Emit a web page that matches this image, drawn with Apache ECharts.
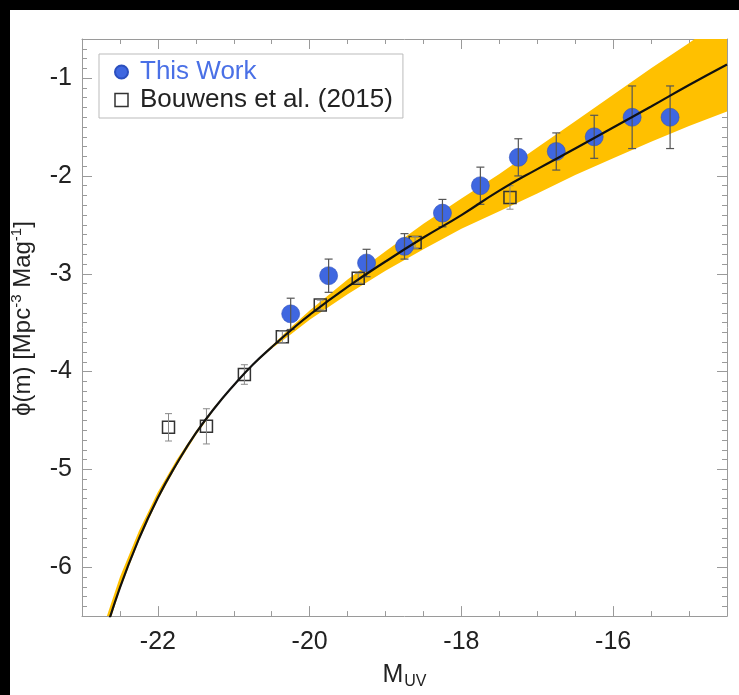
<!DOCTYPE html>
<html>
<head>
<meta charset="utf-8">
<script src="https://cdn.jsdelivr.net/npm/echarts@6/dist/echarts.min.js"></script>
<style>
  html, body { margin: 0; padding: 0; background: #000; }
  #paper { position: absolute; left: 10px; top: 10px; right: 0; bottom: 0; background: #fff; }
  #chart { position: absolute; left: 0; top: 0; width: 739px; height: 695px; }
</style>
</head>
<body>
<div id="paper"></div>
<div id="chart"></div>
<script>
// UV luminosity function: log10 phi [Mpc^-3 Mag^-1] against absolute UV magnitude

// This work: binned values with symmetric 1-sigma errors
const workM   = [-20.25, -19.75, -19.25, -18.75, -18.25, -17.75, -17.25, -16.75, -16.25, -15.75, -15.25];
const workPhi = [-3.41, -3.02, -2.89, -2.72, -2.38, -2.10, -1.81, -1.75, -1.60, -1.40, -1.40];
const workErr = [0.16, 0.17, 0.14, 0.13, 0.14, 0.19, 0.19, 0.19, 0.22, 0.32, 0.32];

// Bouwens et al. (2015)
const bouwensM   = [-21.86, -21.36, -20.86, -20.36, -19.86, -19.36, -18.61, -17.36];
const bouwensPhi = [-4.57, -4.56, -4.03, -3.645, -3.32, -3.045, -2.68, -2.22];
const bouwensErr = [0.14, 0.18, 0.10, 0.06, 0.05, 0.05, 0.06, 0.12];

// best-fit Schechter curve
const fitM   = [-22.75, -22.5, -22.25, -22.0, -21.75, -21.5, -21.25, -21.0, -20.75, -20.5, -20.25, -20.0,
                -19.5, -19.0, -18.5, -18.0, -17.5, -17.0, -16.5, -16.0, -15.5, -15.0, -14.5];
const fitPhi = [-6.81, -6.21, -5.71, -5.29, -4.94, -4.63, -4.37, -4.14, -3.93, -3.75, -3.58, -3.42,
                -3.135, -2.875, -2.63, -2.40, -2.15, -1.93, -1.72, -1.505, -1.29, -1.07, -0.86];

// confidence band around the fit
const bandM     = fitM;
const bandUpper = [-6.68, -6.10, -5.63, -5.23, -4.90, -4.61, -4.355, -4.135, -3.925, -3.735, -3.55, -3.375,
                   -3.06, -2.77, -2.49, -2.23, -1.98, -1.71, -1.44, -1.17, -0.90, -0.64, -0.37];
const bandLower = [-6.84, -6.23, -5.73, -5.31, -4.96, -4.65, -4.38, -4.145, -3.935, -3.765, -3.62, -3.47,
                   -3.21, -2.97, -2.75, -2.54, -2.36, -2.18, -1.99, -1.82, -1.65, -1.49, -1.34];

// axis ticks
const xMajorTicks = [-22, -20, -18, -16];
const yMajorTicks = [-6, -5, -4, -3, -2, -1];
const xRange = [-23, -14.5];
const yRange = [-6.5, -0.6];

const FONT = "'Liberation Sans', Arial, Helvetica, sans-serif";
const AXIS_GRAY = '#9a9a9a';
const BLUE = '#3f67e0';

const chart = echarts.init(document.getElementById('chart'), null, { renderer: 'canvas' });

function errorBars(xs, ys, errs, color, capHalf, width, z) {
  return {
    type: 'custom',
    z: z,
    silent: true,
    clip: true,
    data: xs.map((x, i) => [x, ys[i] - errs[i], ys[i] + errs[i]]),
    encode: { x: 0, y: [1, 2] },
    renderItem: function (params, api) {
      const lo = api.coord([api.value(0), api.value(1)]);
      const hi = api.coord([api.value(0), api.value(2)]);
      const style = { stroke: color, lineWidth: width, fill: null };
      return {
        type: 'group',
        children: [
          { type: 'line', shape: { x1: lo[0], y1: lo[1], x2: hi[0], y2: hi[1] }, style: style },
          { type: 'line', shape: { x1: lo[0] - capHalf, y1: lo[1], x2: lo[0] + capHalf, y2: lo[1] }, style: style },
          { type: 'line', shape: { x1: hi[0] - capHalf, y1: hi[1], x2: hi[0] + capHalf, y2: hi[1] }, style: style }
        ]
      };
    }
  };
}

function xAxisDef(position, major, withLabel) {
  const base = {
    type: 'value',
    position: position,
    min: xRange[0],
    max: xRange[1],
    splitLine: { show: false },
    axisLine: { show: major, onZero: false, lineStyle: { color: AXIS_GRAY, width: 1 } }
  };
  if (major) {
    base.axisTick = { show: true, inside: true, length: 10, customValues: xMajorTicks, lineStyle: { color: AXIS_GRAY } };
    base.axisLabel = withLabel
      ? { show: true, customValues: xMajorTicks, fontSize: 25, fontFamily: FONT, color: '#222', margin: 14 }
      : { show: false };
  } else {
    base.interval = 0.5;
    base.axisTick = { show: true, inside: true, length: 5, lineStyle: { color: AXIS_GRAY } };
    base.axisLabel = { show: false };
  }
  return base;
}

function yAxisDef(position, major, withLabel) {
  const base = {
    type: 'value',
    position: position,
    min: yRange[0],
    max: yRange[1],
    splitLine: { show: false },
    axisLine: { show: major, onZero: false, lineStyle: { color: AXIS_GRAY, width: 1 } }
  };
  if (major) {
    base.axisTick = { show: true, inside: true, length: 10, customValues: yMajorTicks, lineStyle: { color: AXIS_GRAY } };
    base.axisLabel = withLabel
      ? { show: true, customValues: yMajorTicks, fontSize: 25, fontFamily: FONT, color: '#222', margin: 10 }
      : { show: false };
  } else {
    base.interval = 0.1;
    base.axisTick = { show: true, inside: true, length: 5, lineStyle: { color: AXIS_GRAY } };
    base.axisLabel = { show: false };
  }
  return base;
}

const xBottom = xAxisDef('bottom', true, true);
xBottom.name = 'M{sub|UV}';
xBottom.nameLocation = 'middle';
xBottom.nameGap = 34;
xBottom.nameTextStyle = {
  fontSize: 25, fontFamily: FONT, color: '#222', lineHeight: 30,
  rich: { sub: { fontSize: 16, fontFamily: FONT, color: '#222', verticalAlign: 'bottom', lineHeight: 16, padding: [0, 0, 0, 1] } }
};

const yLeft = yAxisDef('left', true, true);
yLeft.name = '\u03d5(m) [Mpc{sup|-3} Mag{sup|-1}]';
yLeft.nameLocation = 'middle';
yLeft.nameRotate = 90;
yLeft.nameGap = 43;
yLeft.nameTextStyle = {
  fontSize: 24, fontFamily: FONT, color: '#222', lineHeight: 30, padding: [0, 0, 0, 18],
  rich: { sup: { fontSize: 15, fontFamily: FONT, color: '#222', verticalAlign: 'top', lineHeight: 15 } }
};

const option = {
  animation: false,
  grid: { left: 82, right: 12, top: 39, bottom: 76, containLabel: false },
  xAxis: [xBottom, xAxisDef('bottom', false), xAxisDef('top', true, false), xAxisDef('top', false)],
  yAxis: [yLeft, yAxisDef('left', false), yAxisDef('right', true, false), yAxisDef('right', false)],
  legend: {
    orient: 'vertical',
    left: 99,
    top: 54,
    padding: [5, 10, 5, 15],
    itemWidth: 13,
    itemHeight: 13,
    itemGap: 2,
    borderColor: '#bbbbbb',
    borderWidth: 1,
    backgroundColor: '#fff',
    selectedMode: false,
    textStyle: { fontSize: 26, fontFamily: FONT, lineHeight: 26, padding: [0, 0, 0, 7] },
    data: [
      { name: 'This Work', icon: 'circle', itemStyle: { color: BLUE, opacity: 1 }, textStyle: { color: '#4a70e6' } },
      { name: 'Bouwens et al. (2015)', icon: 'rect',
        itemStyle: { color: 'rgba(0,0,0,0)', borderColor: '#333', borderWidth: 1.5 },
        textStyle: { color: '#222' } }
    ]
  },
  series: [
    {
      type: 'custom',
      name: 'band',
      z: 1,
      silent: true,
      clip: true,
      data: [[-20, -3]],
      renderItem: function (params, api) {
        const pts = [];
        for (let i = 0; i < bandM.length; i++) pts.push(api.coord([bandM[i], bandUpper[i]]));
        for (let i = bandM.length - 1; i >= 0; i--) pts.push(api.coord([bandM[i], bandLower[i]]));
        return { type: 'polygon', shape: { points: pts }, style: { fill: '#ffc000', stroke: null } };
      }
    },
    {
      type: 'scatter',
      name: 'Bouwens et al. (2015)',
      z: 2,
      symbol: 'rect',
      symbolSize: 12,
      itemStyle: { color: 'rgba(0,0,0,0)', borderColor: '#333', borderWidth: 1.5, opacity: 1 },
      data: bouwensM.map((m, i) => [m, bouwensPhi[i]])
    },
    errorBars(bouwensM, bouwensPhi, bouwensErr, '#8a8a8a', 3.5, 1, 3),
    {
      type: 'scatter',
      name: 'This Work',
      z: 4,
      symbol: 'circle',
      symbolSize: 18,
      itemStyle: { color: BLUE, borderColor: '#2b4fbf', borderWidth: 0.6, opacity: 1 },
      data: workM.map((m, i) => [m, workPhi[i]])
    },
    errorBars(workM, workPhi, workErr, '#555', 4, 1.2, 5),
    {
      type: 'line',
      name: 'fit',
      z: 6,
      smooth: true,
      showSymbol: false,
      silent: true,
      clip: true,
      lineStyle: { color: '#111', width: 2.2 },
      data: fitM.map((m, i) => [m, fitPhi[i]])
    }
  ]
};

chart.setOption(option);
</script>
</body>
</html>
